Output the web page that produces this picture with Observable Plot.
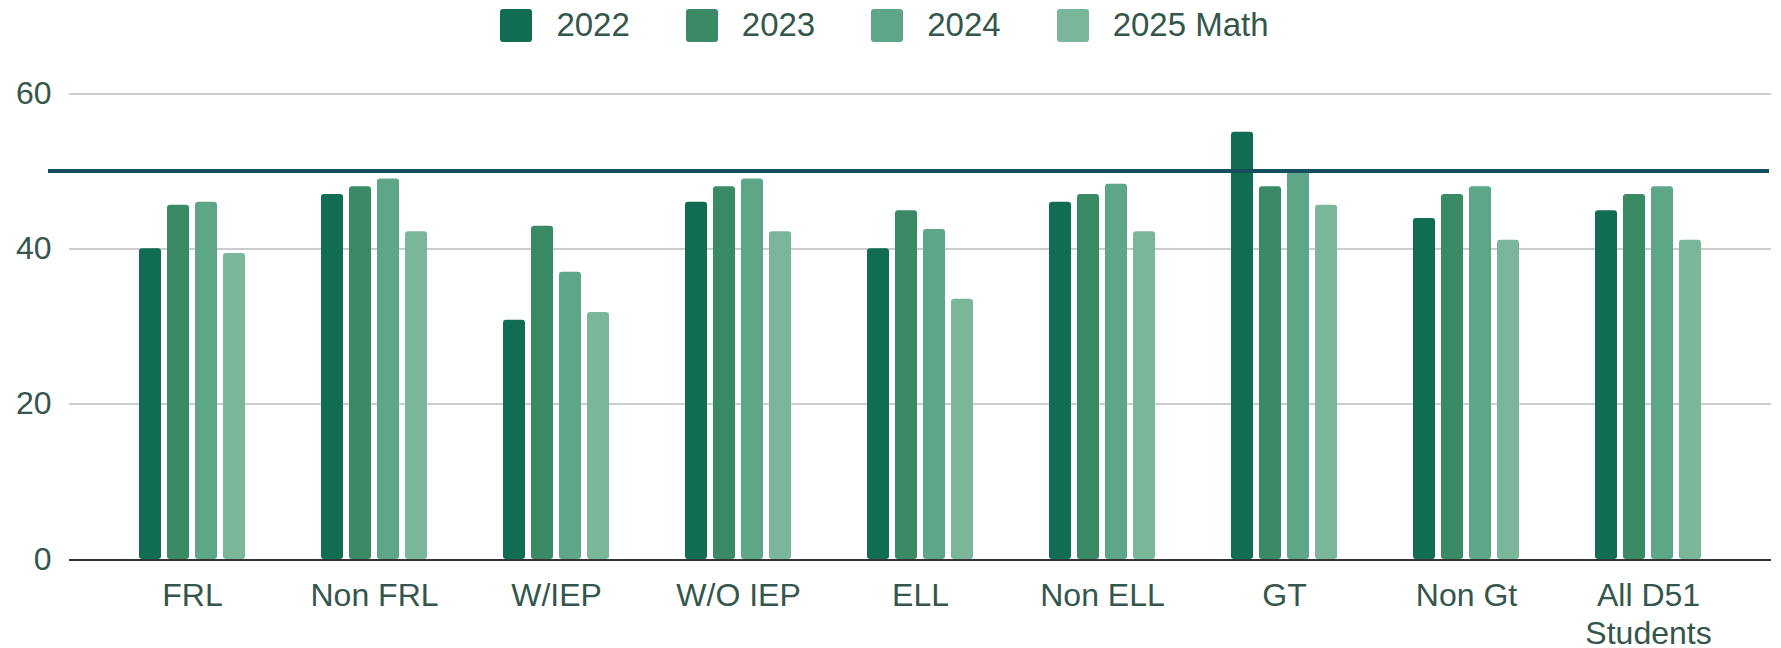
<!DOCTYPE html>
<html>
<head>
<meta charset="utf-8">
<script src="https://cdn.jsdelivr.net/npm/d3@7"></script>
<script src="https://cdn.jsdelivr.net/npm/@observablehq/plot@0.6"></script>
<style>
  html, body { margin: 0; padding: 0; background: #fff; }
  body { width: 1781px; height: 648px; overflow: hidden; font-family: "Liberation Sans", Arial, sans-serif; }
  #legend { height: 50px; display: flex; justify-content: center; align-items: center; gap: 56px; padding-right: 12px; box-sizing: border-box; }
  .item { display: flex; align-items: center; gap: 24px; font-size: 33px; color: #34564c; }
  .sw { width: 32px; height: 33px; border-radius: 3px; }
</style>
</head>
<body>
<div id="legend"></div>
<div id="chart"></div>
<script>
const categories = ["FRL", "Non FRL", "W/IEP", "W/O IEP", "ELL", "Non ELL", "GT", "Non Gt", "All D51 Students"];
const categoryLabels = ["FRL", "Non FRL", "W/IEP", "W/O IEP", "ELL", "Non ELL", "GT", "Non Gt", "All D51\nStudents"];
const series = ["2022", "2023", "2024", "2025 Math"];
const v2022 = [40, 47, 30.8, 46, 40, 46, 55, 43.9, 44.9];
const v2023 = [45.6, 48, 42.9, 48, 44.9, 47, 48, 47, 47];
const v2024 = [46, 49, 37, 49, 42.5, 48.3, 50, 48, 48];
const v2025 = [39.4, 42.2, 31.8, 42.2, 33.5, 42.2, 45.6, 41.1, 41.1];
const colors = ["#116d51", "#3a8a66", "#5da788", "#79b69a"];
const yTicks = [0, 20, 40, 60];
const targetLine = [50];

const valueSets = [v2022, v2023, v2024, v2025];
const data = [];
categories.forEach((c, i) => {
  series.forEach((s, j) => data.push({cat: c, year: s, value: valueSets[j][i]}));
});
const labelData = categories.map((c, i) => ({cat: c, label: categoryLabels[i]}));

// legend
const legend = document.getElementById("legend");
series.forEach((s, j) => {
  const it = document.createElement("div");
  it.className = "item";
  const sw = document.createElement("div");
  sw.className = "sw";
  sw.style.background = colors[j];
  const t = document.createElement("span");
  t.textContent = s;
  it.appendChild(sw); it.appendChild(t);
  legend.appendChild(it);
});

const textColor = "#34564c";
const chart = Plot.plot({
  width: 1781,
  height: 598,
  marginTop: 43,
  marginBottom: 89,
  marginLeft: 67,
  marginRight: 8,
  style: {fontFamily: "Liberation Sans, Arial, sans-serif", fontSize: "32px", color: textColor, background: "#fff", overflow: "visible"},
  fx: {domain: categories, paddingInner: 0, paddingOuter: 0.171, axis: null},
  x: {domain: series, paddingInner: 0.22, paddingOuter: 1.336, axis: null},
  y: {domain: [0, 60], axis: null},
  color: {domain: series, range: colors},
  marks: [
    Plot.ruleY(yTicks.filter(d => d > 0), {stroke: "#cccccc", strokeWidth: 2, insetLeft: -32, insetRight: -32, shapeRendering: "crispEdges"}),
    Plot.axisY(yTicks, {tickSize: 0, tickPadding: 50, label: null, fill: textColor, fontSize: 32}),
    Plot.barY(data, {fx: "cat", x: "year", y: "value", fill: "year", rx: 3}),
    Plot.ruleY([0], {stroke: "#333333", strokeWidth: 2, insetLeft: -32, insetRight: -32, shapeRendering: "crispEdges"}),
    Plot.ruleY(targetLine, {stroke: "#134f5c", strokeWidth: 4, insetLeft: -53, insetRight: -30, shapeRendering: "crispEdges"}),
    Plot.text(labelData, {fx: "cat", text: "label", frameAnchor: "bottom", lineAnchor: "top", dy: 20, lineHeight: 1.17, fill: textColor, fontSize: 32})
  ]
});
document.getElementById("chart").appendChild(chart);
</script>
</body>
</html>
